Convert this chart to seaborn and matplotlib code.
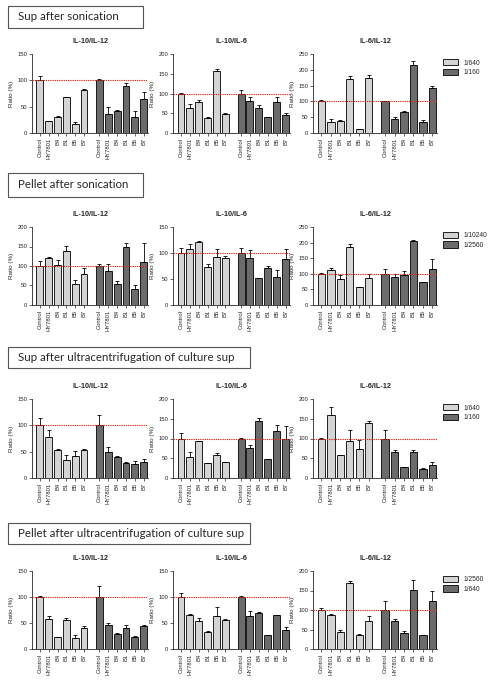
import numpy as np
import pandas as pd
import seaborn as sns
import matplotlib.pyplot as plt
from matplotlib.patches import Patch, Rectangle

strains = ["Control", "HY7801", "B4", "B1", "B5", "B7"]
panels = ["IL-10/IL-12", "IL-10/IL-6", "IL-6/IL-12"]
sections = ["Sup after sonication", "Pellet after sonication",
            "Sup after ultracentrifugation of culture sup",
            "Pellet after ultracentrifugation of culture sup"]
dilutions = [["1/640", "1/160"], ["1/10240", "1/2560"],
             ["1/640", "1/160"], ["1/2560", "1/640"]]
ymax = [[150, 200, 250], [200, 150, 250], [150, 200, 200], [150, 150, 200]]

# values: 6 light bars then 6 dark bars, errors (upper SD) in same order
sup_son_1012 = [100, 22, 30, 68, 18, 82, 100, 37, 42, 89, 30, 64]
sup_son_1012_err = [8, 1, 3, 1, 2, 1, 2, 12, 2, 5, 11, 14]
sup_son_106 = [100, 63, 79, 39, 158, 48, 100, 80, 63, 40, 78, 45]
sup_son_106_err = [2, 10, 4, 1, 5, 2, 8, 10, 7, 0, 14, 6]
sup_son_612 = [100, 35, 37, 170, 12, 175, 100, 43, 67, 215, 34, 142]
sup_son_612_err = [3, 10, 4, 10, 2, 8, 2, 9, 3, 13, 7, 7]

pel_son_1012 = [100, 120, 102, 138, 53, 79, 100, 86, 53, 148, 40, 110]
pel_son_1012_err = [12, 2, 13, 14, 10, 15, 5, 20, 8, 10, 10, 48]
pel_son_106 = [100, 107, 122, 74, 92, 90, 100, 90, 52, 71, 54, 89]
pel_son_106_err = [10, 11, 1, 4, 15, 4, 10, 15, 0, 4, 14, 18]
pel_son_612 = [100, 111, 83, 187, 57, 88, 100, 91, 96, 205, 73, 116]
pel_son_612_err = [3, 8, 12, 8, 2, 12, 16, 8, 14, 4, 2, 30]

sup_uc_1012 = [100, 78, 53, 35, 42, 54, 100, 50, 40, 29, 27, 31]
sup_uc_1012_err = [14, 13, 3, 9, 10, 2, 20, 8, 2, 1, 5, 5]
sup_uc_106 = [100, 52, 93, 38, 58, 40, 100, 76, 145, 47, 118, 100]
sup_uc_106_err = [15, 13, 0, 0, 5, 0, 2, 7, 8, 2, 15, 32]
sup_uc_612 = [100, 160, 57, 93, 74, 138, 100, 65, 28, 65, 23, 34]
sup_uc_612_err = [1, 20, 2, 28, 22, 6, 22, 5, 0, 5, 2, 7]

pel_uc_1012 = [100, 58, 23, 56, 22, 40, 100, 46, 29, 40, 23, 45]
pel_uc_1012_err = [1, 5, 1, 3, 4, 5, 22, 4, 2, 6, 2, 2]
pel_uc_106 = [100, 65, 53, 33, 63, 55, 100, 64, 69, 26, 65, 37]
pel_uc_106_err = [8, 3, 6, 1, 18, 2, 2, 10, 2, 1, 1, 5]
pel_uc_612 = [100, 88, 43, 168, 36, 73, 100, 71, 40, 152, 35, 124]
pel_uc_612_err = [6, 2, 7, 7, 3, 11, 22, 7, 6, 24, 1, 26]

values = [[sup_son_1012, sup_son_106, sup_son_612],
          [pel_son_1012, pel_son_106, pel_son_612],
          [sup_uc_1012, sup_uc_106, sup_uc_612],
          [pel_uc_1012, pel_uc_106, pel_uc_612]]
errors = [[sup_son_1012_err, sup_son_106_err, sup_son_612_err],
          [pel_son_1012_err, pel_son_106_err, pel_son_612_err],
          [sup_uc_1012_err, sup_uc_106_err, sup_uc_612_err],
          [pel_uc_1012_err, pel_uc_106_err, pel_uc_612_err]]

sns.set_style("ticks")
plt.rcParams["font.family"] = ["Liberation Sans", "DejaVu Sans"]

W, H = 495, 683
fig = plt.figure(figsize=(W / 100, H / 100), dpi=100)

light, dark = "#d4d4d4", "#6b6b6b"
pos = np.r_[np.arange(6), np.arange(6) + 6.75]

# pixel layout per row: (box top, box bottom, box right, axes top, axes bottom)
rows_px = [(6, 28, 143, 54, 133), (173, 197, 143, 227, 305),
           (347, 368, 250, 399, 478), (523, 544, 250, 571, 649)]
cols_px = [(32, 148), (173, 290), (313, 437)]

for r in range(4):
    bt, bb, br, at, ab = rows_px[r]
    fig.patches.append(Rectangle((8 / W, 1 - bb / H), (br - 8) / W, (bb - bt) / H,
                                 transform=fig.transFigure, fill=False,
                                 edgecolor="#555555", lw=0.8))
    fig.text(18 / W, 1 - (bt + bb) / 2 / H, sections[r], fontsize=8.3,
             family="Lato", va="center", ha="left")
    for c in range(3):
        x0, x1 = cols_px[c]
        ax = fig.add_axes([x0 / W, 1 - ab / H, (x1 - x0) / W, (ab - at) / H])
        df = pd.DataFrame({
            "pos": pos,
            "val": values[r][c],
            "dil": [dilutions[r][0]] * 6 + [dilutions[r][1]] * 6,
        })
        sns.barplot(data=df, x="pos", y="val", hue="dil", native_scale=True,
                    dodge=False, palette=[light, dark], edgecolor="black",
                    linewidth=0.6, width=0.78, legend=False, ax=ax)
        err = np.array(errors[r][c])
        ax.errorbar(df["pos"], df["val"], yerr=[np.zeros(12), err], fmt="none",
                    ecolor="black", elinewidth=0.6, capsize=1.6, capthick=0.6)
        ax.axhline(100, color="#e0301e", ls=(0, (1.2, 0.8)), lw=0.8, zorder=5)
        ax.set_xlim(-0.9, pos[-1] + 0.5)
        ax.set_ylim(0, ymax[r][c])
        ax.set_yticks(np.arange(0, ymax[r][c] + 1, 50))
        ax.set_xticks(pos)
        ax.set_xticklabels(strains * 2, rotation=90)
        ax.tick_params(labelsize=4.2, length=2, width=0.5, pad=1.5)
        ax.set_xlabel("")
        ax.set_ylabel("Ratio (%)", fontsize=4.5, labelpad=2)
        ax.set_title(panels[c], fontsize=5.2, fontweight="bold", pad=8)
        for s in ["left", "bottom"]:
            ax.spines[s].set_linewidth(0.6)
        sns.despine(ax=ax)
        if c == 2:
            handles = [Patch(facecolor=light, edgecolor="black", lw=0.6),
                       Patch(facecolor=dark, edgecolor="black", lw=0.6)]
            ax.legend(handles, dilutions[r], loc="upper left",
                      bbox_to_anchor=(1.03, 0.97), frameon=False, fontsize=4.8,
                      handlelength=2.2, handleheight=1.1, labelspacing=0.3,
                      handletextpad=0.8, borderaxespad=0)

fig.savefig("out.png", dpi=100, facecolor="white")
